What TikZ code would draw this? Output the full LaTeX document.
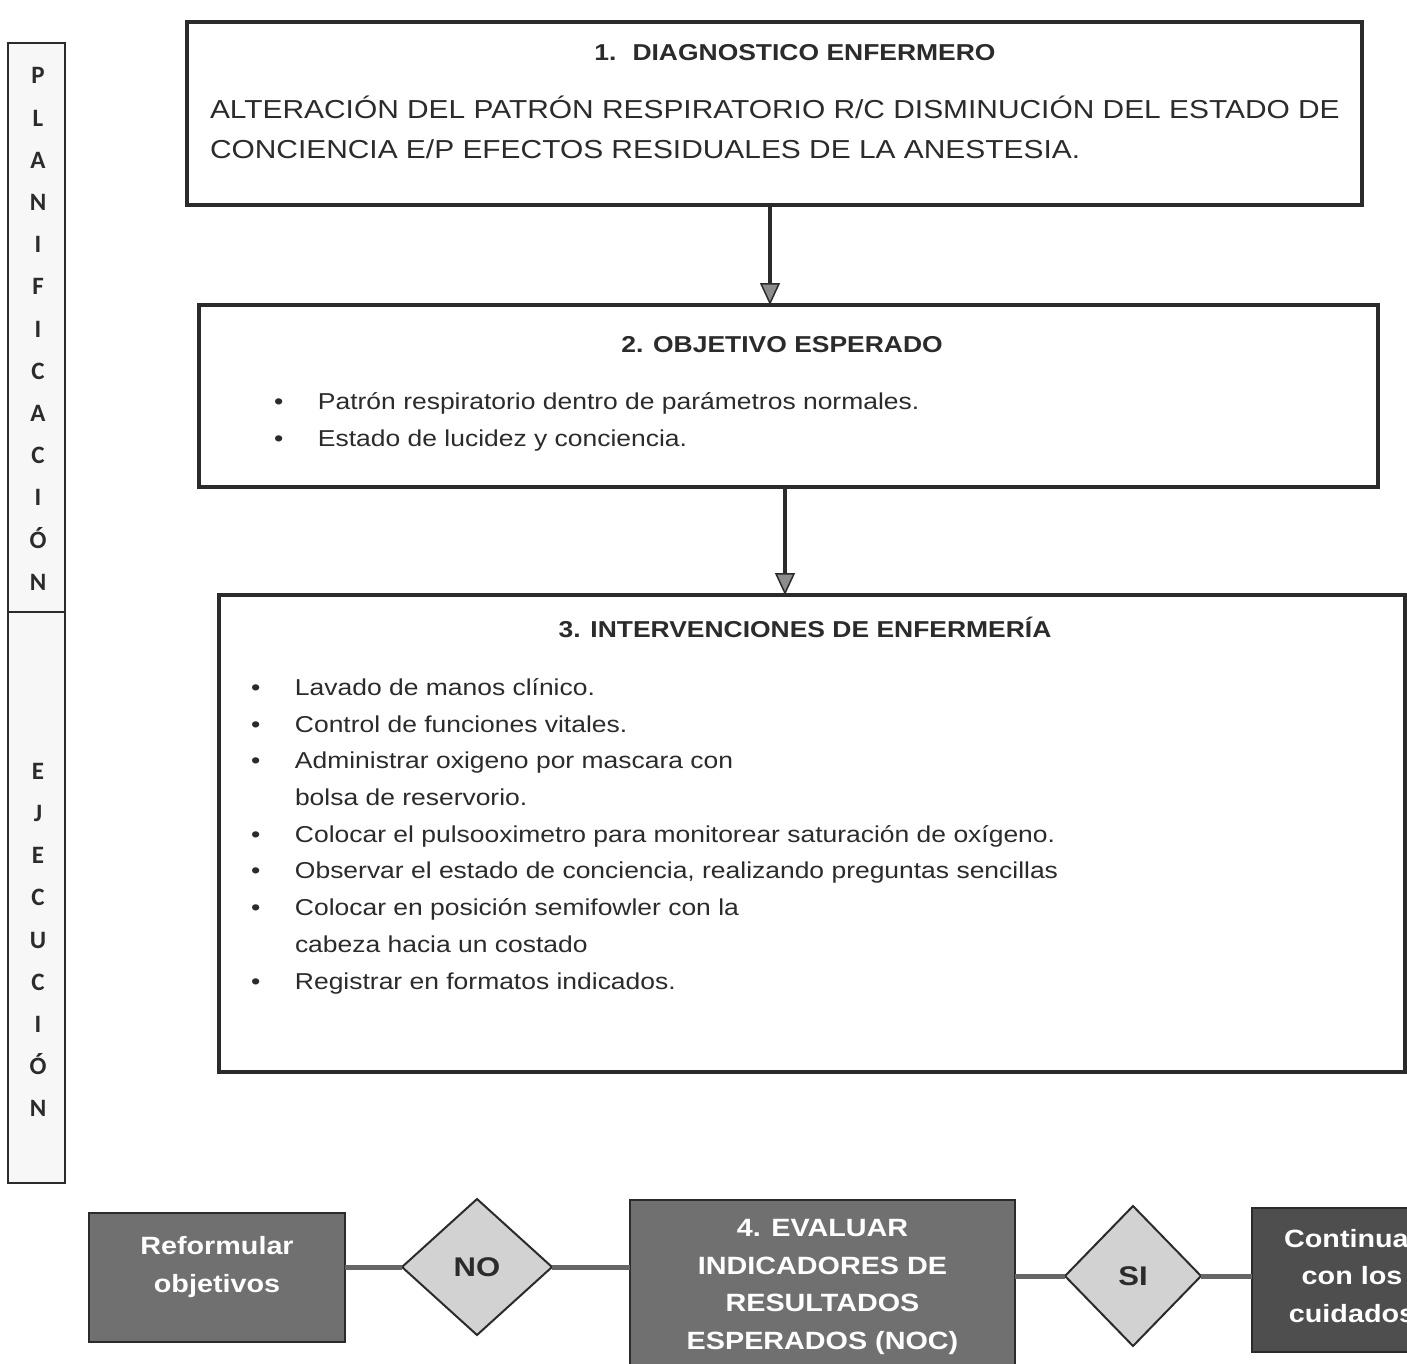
\documentclass[tikz,border=0pt]{standalone}
\usepackage{fontspec}
\setmainfont{Liberation Sans}[FakeStretch=1.15]
\newfontfamily\sidefont{Carlito}
\usetikzlibrary{arrows.meta, positioning, calc, shapes.geometric}

\definecolor{inkgray}{HTML}{2B2B2B}
\definecolor{boxgray}{HTML}{707070}
\definecolor{deepgray}{HTML}{4E4E4E}
\definecolor{pale}{HTML}{D2D2D2}
\definecolor{linkgray}{HTML}{666666}

\newcommand{\blt}{\makebox[44pt][l]{\textbullet}}
\newcommand{\cnt}{\hspace*{44pt}}

\begin{document}
\begin{tikzpicture}[
  x=1pt, y=-1pt,
  every node/.style={inner sep=0pt, outer sep=0pt, text=inkgray},
  panel/.style={rectangle, draw=inkgray, line width=4.5pt},
  sidebox/.style={rectangle, draw=inkgray, line width=2.5pt, fill=black!3, minimum width=57pt},
  sideword/.style={font=\sidefont\bfseries\fontsize{25}{42.2}\selectfont, align=center},
  heading/.style={font=\bfseries\fontsize{23}{28}\selectfont},
  bodytext/.style={font=\fontsize{26}{40}\selectfont, align=left},
  listtext/.style={font=\fontsize{23}{36.7}\selectfont, align=left},
  darkbox/.style={rectangle, draw=inkgray, line width=2.5pt, fill=boxgray},
  whitetext/.style={font=\bfseries\fontsize{25}{37.5}\selectfont, align=center, text=white},
  choice/.style={diamond, draw=inkgray, line width=2pt, fill=pale,
    font=\bfseries\fontsize{27}{30}\selectfont},
  flow/.style={-{Triangle[width=20pt,length=22pt,line width=1.5pt,fill=black!45]},
    line width=4pt, draw=inkgray},
  link/.style={line width=5pt, draw=linkgray},
]
  \useasboundingbox (0,0) rectangle (1407,1364);
  \clip (0,0) rectangle (1407,1364);
  \fill[white] (0,0) rectangle (1407,1364);

  % side column
  \node[sidebox, minimum height=569pt] (plan) at (36.5,327.5) {};
  \node[sidebox, minimum height=571pt] (ejec) at (36.5,897.5) {};
  \node[sideword] (plantxt) at (38,329) {P\\L\\A\\N\\I\\F\\I\\C\\A\\C\\I\\Ó\\N};
  \node[sideword] (ejectxt) at (38,940) {E\\J\\E\\C\\U\\C\\I\\Ó\\N};

  % planning boxes
  \node[panel, minimum width=1175pt, minimum height=183pt] (b1) at (774.5,113.5) {};
  \node[heading, anchor=base] (t1) at (795,61) {1.\hspace{16pt}DIAGNOSTICO ENFERMERO};
  \node[bodytext, anchor=base west] (d1) at (210,159)
    {ALTERACIÓN DEL PATRÓN RESPIRATORIO R/C DISMINUCIÓN DEL ESTADO DE\\
     CONCIENCIA E/P EFECTOS RESIDUALES DE LA ANESTESIA.};

  \node[panel, minimum width=1179pt, minimum height=182pt] (b2) at (788.5,396) {};
  \node[heading, anchor=base] (t2) at (782,352) {2. OBJETIVO ESPERADO};
  \node[listtext, anchor=base west] (d2) at (274,446)
    {\blt Patrón respiratorio dentro de parámetros normales.\\
     \blt Estado de lucidez y conciencia.};

  \node[panel, minimum width=1186pt, minimum height=477pt] (b3) at (812,833.5) {};
  \node[heading, anchor=base] (t3) at (805,637) {3. INTERVENCIONES DE ENFERMERÍA};
  \node[listtext, anchor=base west] (d3) at (251,989)
    {\blt Lavado de manos clínico.\\
     \blt Control de funciones vitales.\\
     \blt Administrar oxigeno por mascara con\\
     \cnt bolsa de reservorio.\\
     \blt Colocar el pulsooximetro para monitorear saturación de oxígeno.\\
     \blt Observar el estado de conciencia, realizando preguntas sencillas\\
     \blt Colocar en posición semifowler con la\\
     \cnt cabeza hacia un costado\\
     \blt Registrar en formatos indicados.};

  \draw[flow] ([xshift=-4.5pt]b1.south) -- ([xshift=-4.5pt]b1.south |- b2.north);
  \draw[flow] ([xshift=-3.5pt]b2.south) -- ([xshift=-3.5pt]b2.south |- b3.north);

  % evaluation row
  \node[darkbox, minimum width=256pt, minimum height=129pt] (refo) at (217,1277.5) {};
  \node[whitetext] (refotxt) at (217,1267) {Reformular\\objetivos};
  \node[choice, minimum width=150pt, minimum height=136pt] (no) at (477,1267) {NO};
  \node[darkbox, minimum width=385pt, minimum height=190pt] (eval) at (822.5,1295) {};
  \node[whitetext] (evaltxt) at (822.5,1287)
    {4. EVALUAR\\INDICADORES DE\\RESULTADOS\\ESPERADOS (NOC)};
  \node[choice, minimum width=136pt, minimum height=140pt] (si) at (1133,1276) {SI};
  \node[darkbox, fill=deepgray, minimum width=208pt, minimum height=144pt] (cont) at (1356,1280) {};
  \node[whitetext] (conttxt) at (1352,1276) {Continuar\\con los\\cuidados};

  \draw[link] (no.west) -- (no.west -| refo.east);
  \draw[link] (no.east) -- (no.east -| eval.west);
  \draw[link] (si.west) -- (si.west -| eval.east);
  \draw[link] (si.east) -- (si.east -| cont.west);
\end{tikzpicture}
\end{document}
